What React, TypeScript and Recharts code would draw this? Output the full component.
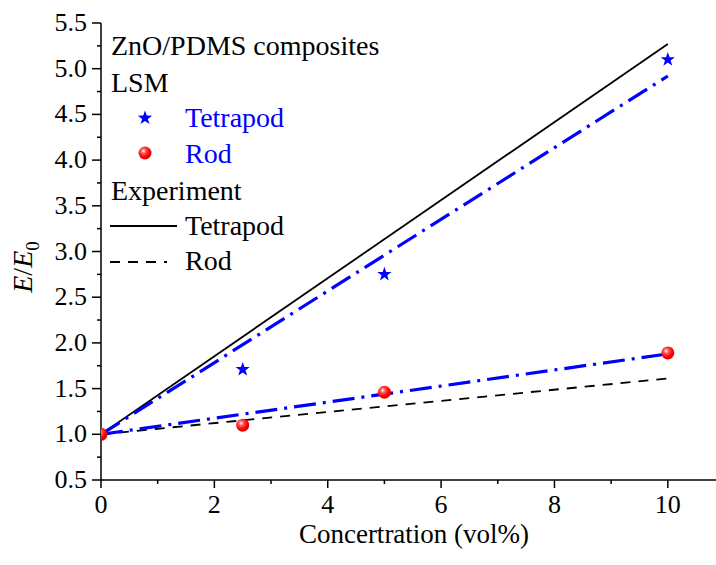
import React from 'react';
import { ComposedChart, Line, Scatter, XAxis, YAxis } from 'recharts';

// experiment fits (straight lines)
const expX = [0, 10];
const expTetrapodE = [1.0, 5.27];
const expRodE = [1.0, 1.61];

// LSM fit lines
const lsmX = [0, 10];
const lsmTetrapodFit = [1.0, 4.92];
const lsmRodFit = [1.0, 1.88];

// LSM points
const tetrapodConc = [2.5, 5, 10];
const tetrapodE = [1.71, 2.75, 5.1];
const rodConc = [0, 2.5, 5, 10];
const rodE = [1.0, 1.1, 1.46, 1.89];

const xTicks = [0, 1, 2, 3, 4, 5, 6, 7, 8, 9, 10];
const yTicks = [0.5, 0.75, 1.0, 1.25, 1.5, 1.75, 2.0, 2.25, 2.5, 2.75, 3.0, 3.25, 3.5, 3.75, 4.0, 4.25, 4.5, 4.75, 5.0, 5.25, 5.5];

const serif = { fontFamily: 'Liberation Serif' };

const toPoints = (xs: number[], ys: number[]) => xs.map((x, i) => ({ x, y: ys[i] }));

function BottomTick({ x, y, payload }: any) {
  const v = payload.value;
  const major = v % 2 === 0;
  return (
    <g>
      <line x1={x} x2={x} y1={y} y2={y + (major ? 8 : 4)} stroke="#000" strokeWidth={1.5} />
      {major && (
        <text x={x} y={y + 33} textAnchor="middle" fontSize={26} style={serif} fill="#000">
          {v}
        </text>
      )}
    </g>
  );
}

function LeftTick({ x, y, payload }: any) {
  const v = payload.value;
  const major = Math.abs(v * 2 - Math.round(v * 2)) < 1e-6;
  return (
    <g>
      <line x1={x - (major ? 9 : 4)} x2={x} y1={y} y2={y} stroke="#000" strokeWidth={1.5} />
      {major && (
        <text x={x - 14} y={y + 8} textAnchor="end" fontSize={26} style={serif} fill="#000">
          {v.toFixed(1)}
        </text>
      )}
    </g>
  );
}

function starPath(cx: number, cy: number, R: number, r: number) {
  let d = '';
  for (let i = 0; i < 10; i++) {
    const rad = i % 2 === 0 ? R : r;
    const a = -Math.PI / 2 + (i * Math.PI) / 5;
    d += (i === 0 ? 'M' : 'L') + (cx + rad * Math.cos(a)).toFixed(2) + ',' + (cy + rad * Math.sin(a)).toFixed(2);
  }
  return d + 'Z';
}

const StarShape = (props: any) => <path d={starPath(props.cx, props.cy, 7.5, 3)} fill="#0000ff" />;
const BallShape = (props: any) => (
  <circle cx={props.cx} cy={props.cy} r={6.5} fill="url(#redBall)" clipPath="url(#plotArea)" />
);

function Chart() {
  return (
    <ComposedChart width={716} height={565} margin={{ top: 23, right: 0, bottom: 0, left: 0 }}>
      <defs>
        <radialGradient id="redBall" cx="38%" cy="35%" r="65%">
          <stop offset="0%" stopColor="#ffffff" />
          <stop offset="30%" stopColor="#ff5555" />
          <stop offset="70%" stopColor="#ff0000" />
          <stop offset="100%" stopColor="#e00000" />
        </radialGradient>
        <clipPath id="plotArea" clipPathUnits="userSpaceOnUse">
          <rect x={101} y={23} width={615} height={457} />
        </clipPath>
      </defs>
      <XAxis
        dataKey="x"
        type="number"
        domain={[0, 10.85]}
        allowDataOverflow
        ticks={xTicks}
        interval={0}
        height={85}
        tickSize={0}
        tickMargin={0}
        tickLine={false}
        axisLine={{ stroke: '#000', strokeWidth: 1.5 }}
        tick={<BottomTick />}
      />
      <XAxis
        xAxisId="top"
        orientation="top"
        type="number"
        domain={[0, 10.85]}
        allowDataOverflow
        ticks={xTicks}
        interval={0}
        height={0}
        mirror
        tickSize={4}
        tickFormatter={() => ''}
        tickLine={{ stroke: '#000', strokeWidth: 1.5 }}
        axisLine={{ stroke: '#000', strokeWidth: 1.5 }}
      />
      <YAxis
        dataKey="y"
        type="number"
        domain={[0.5, 5.5]}
        allowDataOverflow
        ticks={yTicks}
        interval={0}
        width={101}
        tickSize={0}
        tickMargin={0}
        tickLine={false}
        axisLine={{ stroke: '#000', strokeWidth: 1.5 }}
        tick={<LeftTick />}
      />
      <Scatter data={toPoints(tetrapodConc, tetrapodE)} shape={StarShape} isAnimationActive={false} />
      <Scatter data={toPoints(rodConc, rodE)} shape={BallShape} isAnimationActive={false} />
      <Line data={toPoints(expX, expTetrapodE)} dataKey="y" type="linear" stroke="#000" strokeWidth={1.8} dot={false} activeDot={false} isAnimationActive={false} />
      <Line data={toPoints(expX, expRodE)} dataKey="y" type="linear" stroke="#000" strokeWidth={1.8} strokeDasharray="10 8" dot={false} activeDot={false} isAnimationActive={false} />
      <Line data={toPoints(lsmX, lsmTetrapodFit)} dataKey="y" type="linear" stroke="#0000ff" strokeWidth={3.2} strokeDasharray="22 7 3 7" dot={false} activeDot={false} isAnimationActive={false} />
      <Line data={toPoints(lsmX, lsmRodFit)} dataKey="y" type="linear" stroke="#0000ff" strokeWidth={3.2} strokeDasharray="22 7 3 7" dot={false} activeDot={false} isAnimationActive={false} />

      {/* legend */}
      <g fontSize={28} fill="#000" style={serif}>
        <text x={111} y={55}>ZnO/PDMS composites</text>
        <text x={111} y={92}>LSM</text>
        <path d={starPath(145, 118, 7.5, 3)} fill="#0000ff" />
        <text x={185} y={127} fill="#0000ff">Tetrapod</text>
        <circle cx={145} cy={153} r={6.5} fill="url(#redBall)" />
        <text x={185} y={163} fill="#0000ff">Rod</text>
        <text x={111} y={200}>Experiment</text>
        <line x1={110} x2={177} y1={226} y2={226} stroke="#000" strokeWidth={1.8} />
        <text x={185} y={235}>Tetrapod</text>
        <line x1={110} x2={167} y1={262} y2={262} stroke="#000" strokeWidth={1.8} strokeDasharray="10 8" />
        <text x={185} y={270}>Rod</text>
      </g>

      {/* axis titles */}
      <text x={414} y={543} textAnchor="middle" fontSize={27} fill="#000" style={serif}>
        Concertration (vol%)
      </text>
      <text x={32} y={267} textAnchor="middle" transform="rotate(-90, 32, 267)" fontSize={28} fill="#000" style={serif}>
        <tspan fontStyle="italic">E</tspan>/<tspan fontStyle="italic">E</tspan>
        <tspan fontSize={19} dy={7}>0</tspan>
      </text>
    </ComposedChart>
  );
}

export default function App() {
  return (
    <div style={{ position: 'absolute', left: 0, top: 0 }}>
      <Chart />
    </div>
  );
}
